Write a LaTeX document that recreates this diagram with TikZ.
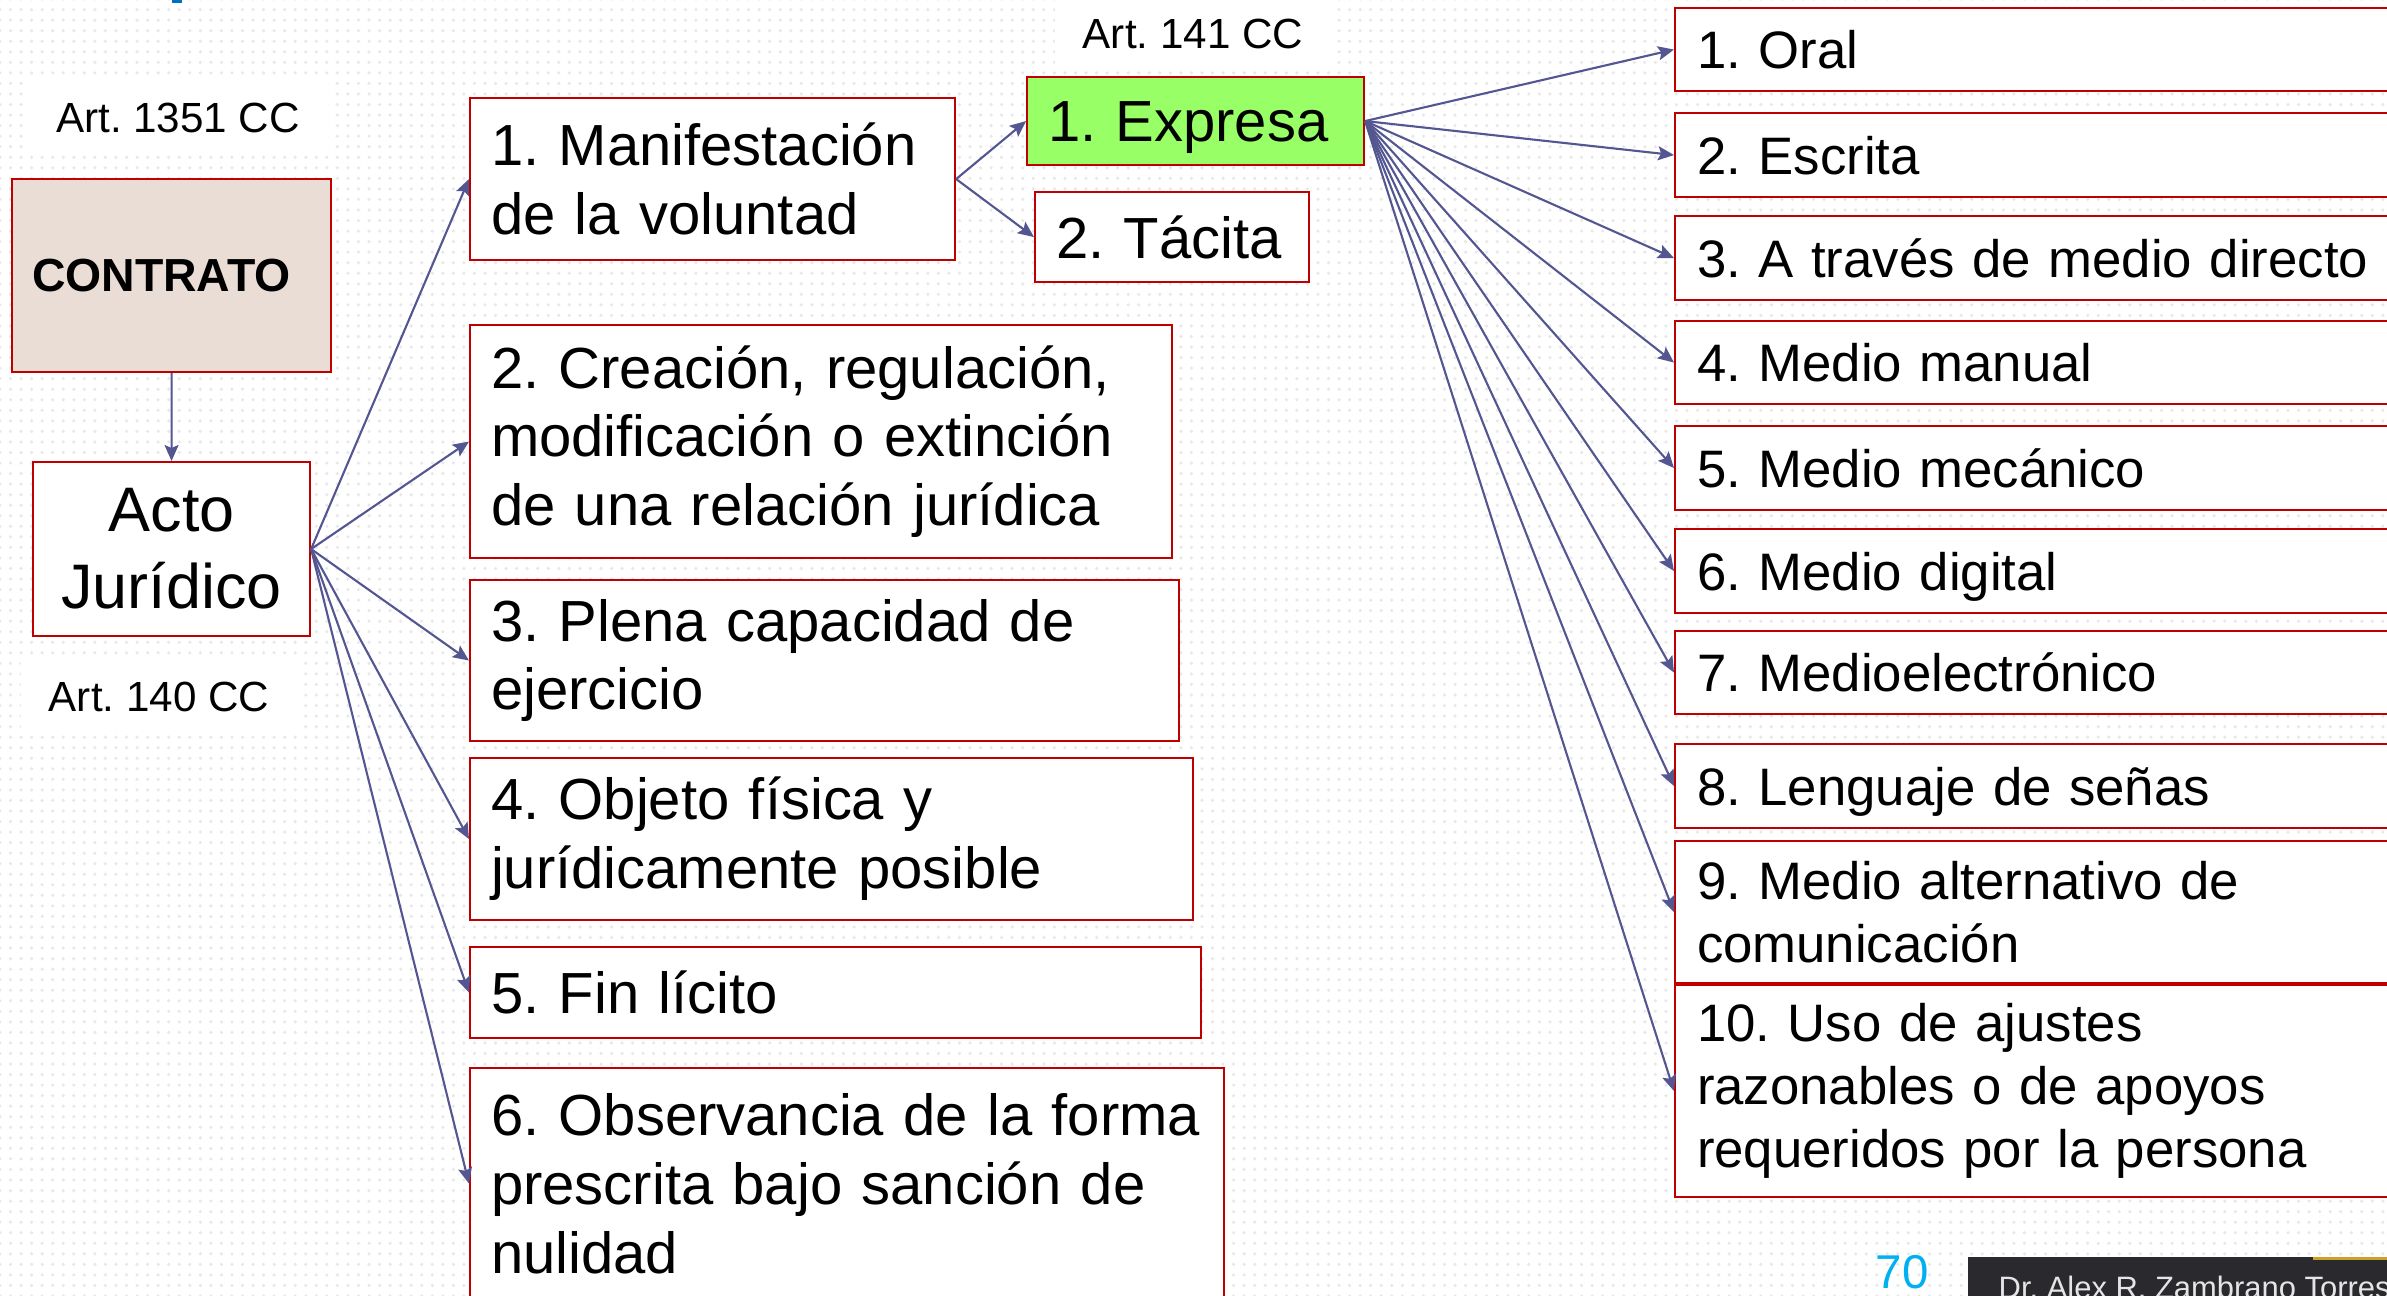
\documentclass[tikz,border=0pt]{standalone}
\usepackage{fontspec}
\setmainfont{Liberation Sans}
\usetikzlibrary{arrows.meta,patterns}
\frenchspacing

\definecolor{rojo}{RGB}{192,0,0}
\definecolor{azulflecha}{RGB}{83,86,145}
\definecolor{verde}{RGB}{153,255,102}
\definecolor{rosado}{RGB}{234,221,213}
\definecolor{celeste}{RGB}{0,176,240}
\definecolor{piegris}{RGB}{42,42,46}
\definecolor{dorado}{RGB}{201,162,39}
\definecolor{azultitulo}{RGB}{0,112,192}

\tikzset{
  caja/.style={draw=rojo, fill=white, line width=0.6pt, anchor=north west,
    align=left, inner xsep=0.21cm, inner ysep=0pt,
    font=\fontsize{16.5}{19.6}\selectfont},
  opcion/.style={caja, inner xsep=0.22cm, minimum width=7.4cm, text width=6.96cm,
    font=\fontsize{15}{17.9}\selectfont},
  unalinea/.style={text depth=0pt},
  etiqueta/.style={fill=white, inner xsep=0.28cm, inner ysep=0.22cm,
    font=\fontsize{12}{14}\selectfont},
  rama/.style={draw=azulflecha, line width=0.6pt,
    -{Stealth[length=0.16cm, width=0.14cm, inset=0.03cm]}}
}

\begin{document}
\begin{tikzpicture}
  \useasboundingbox (0,0) rectangle (23.87,-12.96);

  % Dotted slide background
  \fill[white] (0,0) rectangle (23.87,-12.96);
  \fill[pattern=dots, pattern color=black!9] (0,0) rectangle (23.87,-12.96);
  \fill[azultitulo] (1.72,0) rectangle (1.82,-0.03);

  % Article references
  \node[etiqueta] (art1351) at (1.78,-1.18) {Art. 1351 CC};
  \node[etiqueta] (art140) at (1.59,-6.97) {Art. 140 CC};
  \node[etiqueta] (art141) at (11.93,-0.34) {Art. 141 CC};

  % Contract and legal act
  \node[caja, unalinea, fill=rosado, minimum width=3.19cm, minimum height=1.93cm,
    text width=2.79cm, inner xsep=0.2cm, font=\fontsize{13.2}{16}\selectfont\bfseries]
    (contrato) at (0.11,-1.78) {CONTRATO};
  \node[caja, align=center, minimum width=2.77cm, minimum height=1.74cm,
    text width=2.57cm, inner xsep=0.1cm, font=\fontsize{17.9}{21.9}\selectfont]
    (acto) at (0.32,-4.61) {Acto\\Jurídico};

  % Requirements
  \node[caja, minimum width=4.85cm, minimum height=1.62cm, text width=4.43cm]
    (manif) at (4.69,-0.97) {1. Manifestación\\de la voluntad};
  \node[caja, minimum width=7.02cm, minimum height=2.33cm, text width=6.60cm]
    (crea) at (4.69,-3.24)
    {2. Creación, regulación,\\modificación o extinción\\de una relación jurídica};
  \node[caja, minimum width=7.09cm, minimum height=1.61cm, text width=6.67cm]
    (plena) at (4.69,-5.79) {3. Plena capacidad de\\ejercicio};
  \node[caja, minimum width=7.23cm, minimum height=1.62cm, text width=6.81cm]
    (objeto) at (4.69,-7.57) {4. Objeto física y\\jurídicamente posible};
  \node[caja, unalinea, minimum width=7.31cm, minimum height=0.91cm, text width=6.89cm]
    (fin) at (4.69,-9.46) {5. Fin lícito};
  \node[caja, minimum width=7.47cm, minimum height=2.31cm, text width=7.12cm]
    (obs) at (4.69,-10.67)
    {6. Observancia de la forma\\prescrita bajo sanción de\\nulidad};

  % Kinds of manifestation
  \node[caja, unalinea, fill=verde, minimum width=3.37cm, minimum height=0.88cm,
    text width=2.95cm] (expresa) at (10.26,-0.76) {1. Expresa};
  \node[caja, unalinea, minimum width=2.74cm, minimum height=0.90cm,
    text width=2.32cm] (tacita) at (10.34,-1.91) {2. Tácita};

  % Means of express manifestation
  \node[opcion, unalinea, minimum height=0.83cm] (op1) at (16.74,-0.07) {1. Oral};
  \node[opcion, unalinea, minimum height=0.84cm] (op2) at (16.74,-1.12) {2. Escrita};
  \node[opcion, unalinea, minimum height=0.84cm] (op3) at (16.74,-2.15)
    {3. A través de medio directo};
  \node[opcion, unalinea, minimum height=0.83cm] (op4) at (16.74,-3.20) {4. Medio manual};
  \node[opcion, unalinea, minimum height=0.84cm] (op5) at (16.74,-4.25) {5. Medio mecánico};
  \node[opcion, unalinea, minimum height=0.84cm] (op6) at (16.74,-5.28) {6. Medio digital};
  \node[opcion, unalinea, minimum height=0.83cm] (op7) at (16.74,-6.30)
    {7. Medioelectrónico};
  \node[opcion, unalinea, minimum height=0.84cm] (op8) at (16.74,-7.43)
    {8. Lenguaje de señas};
  \node[opcion, minimum height=1.42cm] (op9) at (16.74,-8.40)
    {9. Medio alternativo de\\comunicación};
  \node[opcion, minimum height=2.12cm] (op10) at (16.74,-9.84)
    {10. Uso de ajustes\\razonables o de apoyos\\requeridos por la persona};

  % Connectors
  \draw[rama] (contrato) -- (acto);
  \foreach \req in {manif,crea,plena,objeto,fin,obs}
    \draw[rama] (acto.east) -- (\req.west);
  \draw[rama] (manif.east) -- (expresa.west);
  \draw[rama] (manif.east) -- (tacita.west);
  \foreach \n in {1,...,10}
    \draw[rama] (expresa.east) -- (op\n.west);

  % Footer
  \fill[piegris] (19.68,-12.57) rectangle (23.87,-12.96);
  \fill[dorado] (23.13,-12.57) rectangle (23.87,-12.60);
  \node[anchor=base west, inner sep=0pt, text=gray!20,
    font=\fontsize{8.8}{10}\selectfont]
    (autor) at (19.98,-12.98) {Dr. Alex R. Zambrano Torres};
  \node[inner sep=0pt, text=celeste, font=\fontsize{13.5}{16}\selectfont]
    (pagina) at (19.02,-12.72) {70};
\end{tikzpicture}
\end{document}
